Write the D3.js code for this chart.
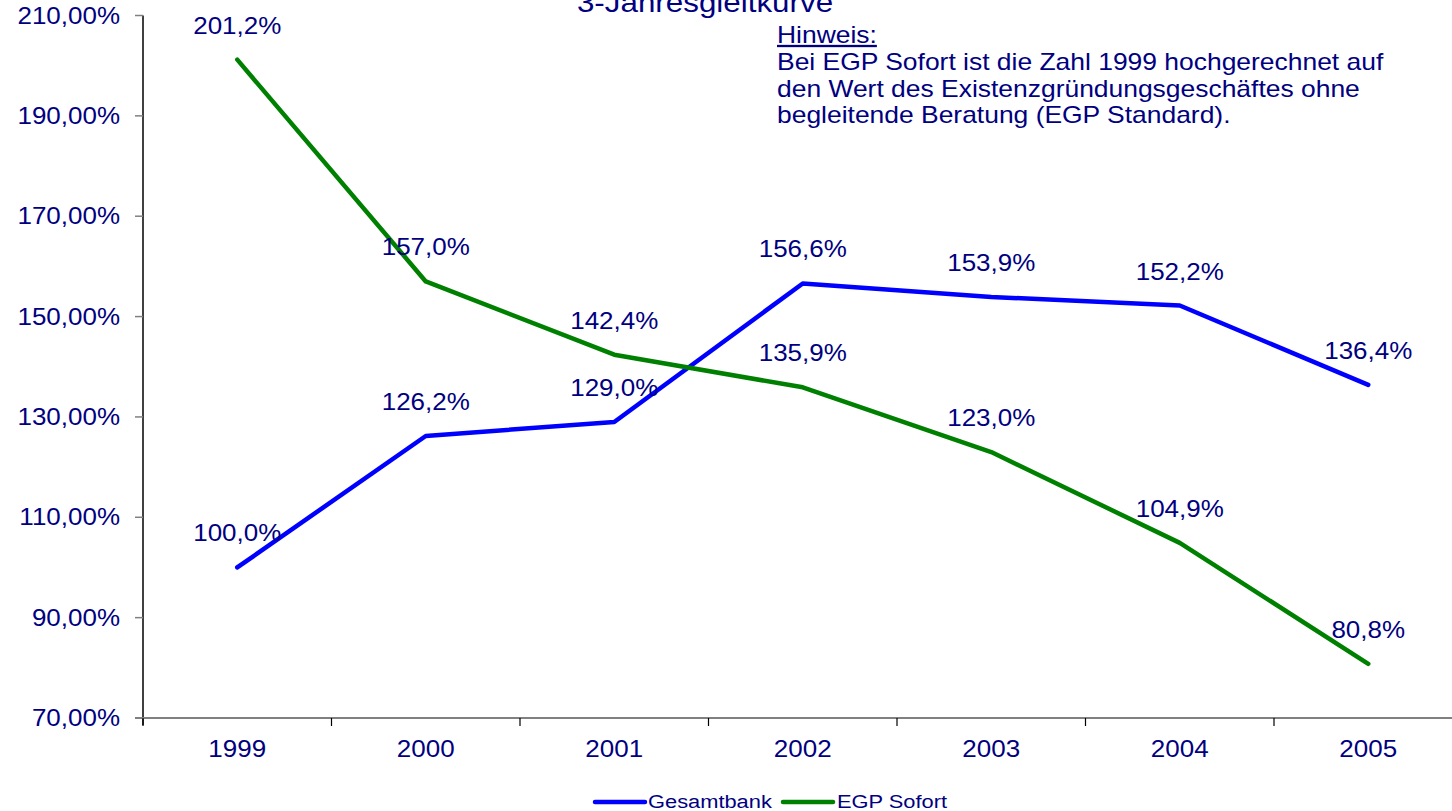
<!DOCTYPE html>
<html>
<head>
<meta charset="utf-8">
<script src="https://cdn.jsdelivr.net/npm/d3@7"></script>
<style>
  html, body { margin: 0; padding: 0; background: #fff; }
  svg { display: block; font-family: "Liberation Sans", Arial, sans-serif; }
</style>
</head>
<body>
<svg id="chart" width="1452" height="811"></svg>
<script>
const years = ["1999", "2000", "2001", "2002", "2003", "2004", "2005"];
const gesamtbank = [100.0, 126.2, 129.0, 156.6, 153.9, 152.2, 136.4];
const egpSofort = [201.2, 157.0, 142.4, 135.9, 123.0, 104.9, 80.8];
const yTicks = [70, 90, 110, 130, 150, 170, 190, 210];
const seriesNames = ["Gesamtbank", "EGP Sofort"];
const seriesColors = ["#0000FF", "#008000"];
const titleText = "3-Jahresgleitkurve";
const noteTitle = "Hinweis:";
const noteLines = [
  "Bei EGP Sofort ist die Zahl 1999 hochgerechnet auf",
  "den Wert des Existenzgründungsgeschäftes ohne",
  "begleitende Beratung (EGP Standard)."
];

const textColor = "#000080";
const SX = 1.13;
const svg = d3.select("#chart");

const x = d3.scaleBand().domain(years).range([143, 143 + 7 * 188.5]).paddingInner(0).paddingOuter(0);
const y = d3.scaleLinear().domain([70, 210]).range([718, 15.5]);
const fmtTick = v => v.toFixed(2).replace(".", ",") + "%";
const fmtLab = v => v.toFixed(1).replace(".", ",") + "%";

function stext(g, tx, ty, str, size, anchor, scale) {
  return g.append("text")
    .attr("transform", `translate(${tx},${ty}) scale(${scale || SX},1)`)
    .attr("text-anchor", anchor || "middle")
    .attr("font-size", size)
    .attr("fill", textColor)
    .text(str);
}

// Title (partly clipped at top, as in the reference)
stext(svg, 705, 12, titleText, 28, "middle", 1.12);

// Y axis
const yAxisG = svg.append("g");
yAxisG.append("line").attr("x1", 143).attr("x2", 143).attr("y1", y(210)).attr("y2", 725)
  .attr("stroke", "#000").attr("stroke-width", 1.5);
yTicks.forEach(t => {
  yAxisG.append("line").attr("x1", 135).attr("x2", 143).attr("y1", y(t)).attr("y2", y(t))
    .attr("stroke", "#808080").attr("stroke-width", 1.5);
  stext(yAxisG, 120, y(t) + 8, fmtTick(t), 23, "end");
});

// X axis
const xAxisG = svg.append("g");
xAxisG.append("line").attr("x1", 135).attr("x2", 1452).attr("y1", y(70)).attr("y2", y(70))
  .attr("stroke", "#808080").attr("stroke-width", 2);
years.forEach(yr => {
  xAxisG.append("line").attr("x1", x(yr)).attr("x2", x(yr)).attr("y1", y(70)).attr("y2", y(70) + 8)
    .attr("stroke", "#000").attr("stroke-width", 1.2);
  stext(xAxisG, x(yr) + x.bandwidth() / 2, 757, yr, 23, "middle");
});
xAxisG.append("line").attr("x1", x.range()[1]).attr("x2", x.range()[1]).attr("y1", y(70)).attr("y2", y(70) + 8)
  .attr("stroke", "#000").attr("stroke-width", 1.2);

// Lines
const cx = yr => x(yr) + x.bandwidth() / 2;
const line = d3.line().x((d, i) => cx(years[i])).y(d => y(d));
[gesamtbank, egpSofort].forEach((s, k) => {
  svg.append("path").datum(s).attr("d", line).attr("fill", "none")
    .attr("stroke", seriesColors[k]).attr("stroke-width", 4.5)
    .attr("stroke-linejoin", "round").attr("stroke-linecap", "round");
});

// Data labels
[gesamtbank, egpSofort].forEach(s => {
  s.forEach((v, i) => {
    stext(svg, cx(years[i]), y(v) - 26, fmtLab(v), 23, "middle");
  });
});

// Note
const note = svg.append("g");
stext(note, 777, 43, noteTitle, 23, "start", 1.15).attr("text-decoration", "underline");
noteLines.forEach((l, i) => stext(note, 777, 70 + i * 26.5, l, 23, "start", 1.15));

// Legend
const leg = svg.append("g");
const legItems = [{x1: 595, x2: 645, tx: 648}, {x1: 783, x2: 833, tx: 837}];
legItems.forEach((it, k) => {
  leg.append("line").attr("x1", it.x1).attr("x2", it.x2).attr("y1", 802).attr("y2", 802)
    .attr("stroke", seriesColors[k]).attr("stroke-width", 4.5).attr("stroke-linecap", "round");
  stext(leg, it.tx, 808, seriesNames[k], 19, "start", 1.15);
});
</script>
</body>
</html>
